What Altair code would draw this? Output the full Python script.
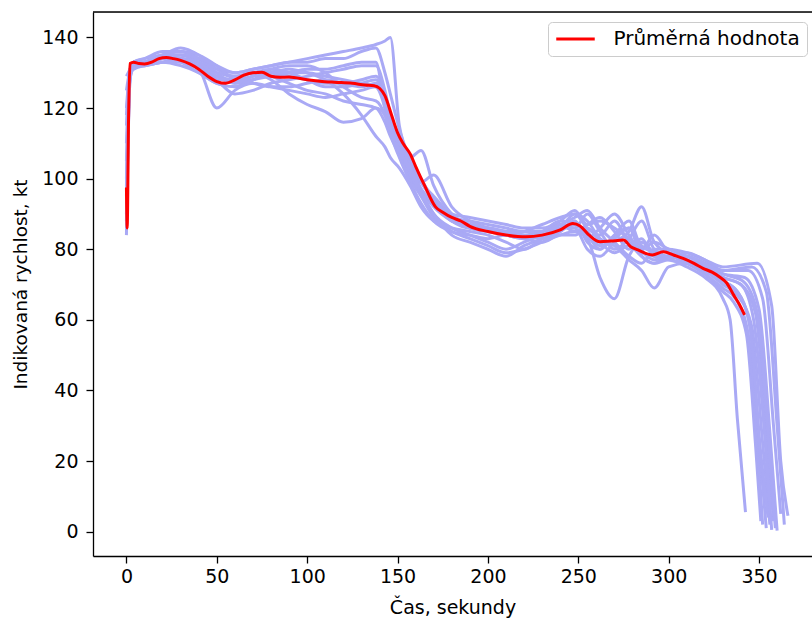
import altair as alt
import pandas as pd

# Common sample times (s) shared by every recorded approach
TIME = [0, 2, 4, 10, 20, 30, 40, 50, 60, 70, 80, 90, 100, 110, 120, 130, 138,
        143, 146, 151, 157, 163, 170, 180, 190, 200, 210, 220, 230, 240, 248,
        255, 262, 270, 278, 285, 292, 300, 310, 320, 330]

# Indicated airspeed (kt) of each approach on TIME
SPEED_01 = [129, 131, 133, 133, 135, 136, 134, 131, 130, 131, 132, 133, 133, 134, 134, 136, 137, 130, 124, 114,
            104, 97, 92, 88, 86, 85, 84, 83, 84, 86, 90, 86, 84, 88, 82, 80, 84, 79, 77, 74, 70]
SPEED_02 = [84, 128, 132, 133, 134, 133, 130, 127, 126, 128, 129, 130, 131, 131, 132, 133, 133, 120, 114, 107,
            101, 96, 90, 86, 84, 82, 80, 82, 84, 85, 88, 82, 80, 84, 86, 78, 76, 78, 76, 73, 68]
SPEED_03 = [110, 130, 132, 133, 134, 135, 133, 128, 124, 125, 127, 128, 129, 130, 131, 132, 132, 125, 118, 110,
            103, 97, 93, 88, 87, 86, 85, 84, 85, 87, 86, 90, 85, 80, 83, 88, 80, 78, 78, 75, 72]
SPEED_04 = [100, 129, 131, 132, 133, 134, 132, 129, 128, 129, 130, 129, 128, 127, 127, 128, 129, 124, 117, 108,
            100, 95, 89, 85, 83, 81, 79, 80, 82, 84, 85, 83, 72, 66, 78, 82, 79, 77, 76, 73, 69]
SPEED_05 = [120, 131, 133, 133, 135, 137, 135, 131, 129, 130, 131, 130, 128, 126, 126, 127, 128, 123, 118, 112,
            106, 100, 94, 89, 88, 87, 86, 85, 85, 87, 89, 91, 86, 82, 78, 76, 80, 80, 79, 77, 74]
SPEED_06 = [95, 129, 132, 132, 134, 134, 133, 130, 129, 130, 129, 127, 125, 124, 122, 121, 120, 116, 112, 107,
            101, 96, 90, 84, 82, 80, 78, 81, 83, 86, 87, 84, 80, 84, 88, 80, 77, 78, 77, 75, 71]
SPEED_07 = [125, 131, 133, 134, 135, 136, 135, 132, 128, 127, 126, 126, 127, 128, 127, 126, 127, 122, 116, 110,
            104, 99, 95, 90, 89, 88, 87, 86, 86, 88, 91, 87, 88, 86, 83, 80, 82, 80, 78, 76, 73]
SPEED_08 = [90, 128, 132, 132, 133, 132, 130, 127, 126, 128, 130, 130, 130, 129, 128, 127, 126, 120, 113, 106,
            99, 93, 88, 85, 84, 83, 84, 83, 82, 84, 84, 86, 82, 79, 81, 78, 76, 77, 75, 72, 66]
SPEED_09 = [105, 130, 132, 132, 133, 133, 131, 120, 125, 127, 126, 125, 124, 123, 124, 125, 126, 121, 115, 108,
            102, 97, 93, 88, 86, 86, 85, 84, 83, 85, 88, 83, 86, 90, 84, 79, 78, 80, 77, 75, 72]
SPEED_10 = [115, 131, 133, 134, 136, 136, 134, 130, 127, 128, 130, 131, 130, 128, 124, 118, 112, 109, 106, 103,
            98, 92, 88, 86, 85, 84, 82, 80, 83, 86, 86, 80, 78, 82, 85, 92, 82, 79, 78, 76, 74]
SPEED_11 = [88, 129, 132, 133, 134, 135, 133, 129, 127, 129, 131, 132, 132, 130, 126, 123, 122, 118, 113, 108,
            103, 99, 101, 92, 88, 86, 84, 85, 87, 89, 90, 88, 83, 81, 77, 74, 69, 75, 76, 74, 71]
SPEED_12 = [118, 130, 133, 133, 134, 134, 132, 128, 128, 130, 128, 124, 121, 119, 116, 117, 120, 118, 114, 110,
            106, 108, 98, 90, 87, 86, 85, 85, 84, 87, 85, 87, 89, 85, 80, 83, 78, 77, 79, 77, 75]
SPEED_13 = [98, 129, 132, 133, 135, 135, 134, 132, 130, 131, 132, 133, 134, 135, 136, 137, 138, 139, 140, 115,
            106, 99, 94, 89, 86, 85, 84, 83, 85, 88, 87, 85, 81, 83, 86, 81, 79, 78, 78, 76, 73]

# Touchdown segment of each approach: times (s) and speeds (kt)
TAIL_T_01, TAIL_V_01 = [338, 346, 352, 356], [67, 58, 25, 2]
TAIL_T_02, TAIL_V_02 = [336, 343, 348, 351], [65, 56, 25, 3]
TAIL_T_03, TAIL_V_03 = [340, 348, 354, 358], [70, 62, 28, 3]
TAIL_T_04, TAIL_V_04 = [337, 344, 349, 352], [66, 56, 26, 2]
TAIL_T_05, TAIL_V_05 = [344, 352, 358, 362], [74, 66, 30, 5]
TAIL_T_06, TAIL_V_06 = [338, 345, 350, 354], [68, 58, 25, 1]
TAIL_T_07, TAIL_V_07 = [342, 350, 356, 360], [72, 63, 28, 0.3]
TAIL_T_08, TAIL_V_08 = [334, 338, 342.5], [60, 32, 5.5]
TAIL_T_09, TAIL_V_09 = [340, 347, 353, 357], [70, 60, 28, 0.5]
TAIL_T_10, TAIL_V_10 = [346, 354, 360, 364], [75, 68, 30, 2]
TAIL_T_11, TAIL_V_11 = [338, 345, 351, 355], [68, 58, 22, 4]
TAIL_T_12, TAIL_V_12 = [349, 357, 362, 366], [76, 64, 20, 4.5]
TAIL_T_13, TAIL_V_13 = [341, 349, 355, 359], [71, 62, 28, 1]

# Mean airspeed across approaches
MEAN_TIME = [0, 0.4, 1.2, 2, 4, 7, 10, 14, 18, 22, 26, 30, 35, 40, 45, 50, 55, 60, 65, 70,
             75, 80, 85, 90, 100, 107, 115, 125, 132, 137, 140, 143, 147, 150, 153, 157, 160, 165, 171, 175,
             180, 185, 190, 200, 210, 221, 230, 240, 247, 251, 256, 262, 268, 275, 279, 283, 291, 297, 303, 308,
             314, 319, 324, 328, 332, 336, 339, 342]
MEAN_SPEED = [97.5, 86, 118, 132.6, 133, 132.6, 132.5, 133, 134, 134.3, 134, 133.5, 132.5, 131, 129, 127.5, 127, 128, 129.3, 130,
              130.1, 129, 128.7, 128.8, 128, 127.6, 127.3, 127, 126.5, 126.3, 125.6, 123.5, 117.5, 113, 110, 107, 103.5, 98, 92, 90.5,
              89, 88, 86.5, 85, 84, 83.5, 84, 85.5, 87.3, 86.6, 84, 82.1, 82.3, 82.6, 80.7, 79.8, 78.4, 79.3, 78.3, 77.4,
              76, 74.6, 73.5, 72.2, 70.5, 67, 64.5, 61.4]

MEAN_LABEL = "Průměrná hodnota"

FLIGHTS = [
    (SPEED_01, TAIL_T_01, TAIL_V_01), (SPEED_02, TAIL_T_02, TAIL_V_02),
    (SPEED_03, TAIL_T_03, TAIL_V_03), (SPEED_04, TAIL_T_04, TAIL_V_04),
    (SPEED_05, TAIL_T_05, TAIL_V_05), (SPEED_06, TAIL_T_06, TAIL_V_06),
    (SPEED_07, TAIL_T_07, TAIL_V_07), (SPEED_08, TAIL_T_08, TAIL_V_08),
    (SPEED_09, TAIL_T_09, TAIL_V_09), (SPEED_10, TAIL_T_10, TAIL_V_10),
    (SPEED_11, TAIL_T_11, TAIL_V_11), (SPEED_12, TAIL_T_12, TAIL_V_12),
    (SPEED_13, TAIL_T_13, TAIL_V_13),
]

rows = []
for i, (speeds, tail_t, tail_v) in enumerate(FLIGHTS, start=1):
    for t, v in zip(TIME + tail_t, speeds + tail_v):
        rows.append({"flight": i, "t": t, "v": v})
flights_df = pd.DataFrame(rows)
mean_df = pd.DataFrame({"t": MEAN_TIME, "v": MEAN_SPEED, "series": MEAN_LABEL})

W, H = 719, 544
FONT = "DejaVu Sans"

x_scale = alt.Scale(domain=[-18.5, 379.3], nice=False, zero=False)
y_scale = alt.Scale(domain=[-6.9, 147.2], nice=False, zero=False)

axis_common = dict(
    grid=False, tickSize=7, tickWidth=1.3, tickColor="black",
    domainColor="black", domainWidth=1.3, labelColor="black",
    labelFont=FONT, titleFont=FONT, titleFontWeight="normal",
    titleColor="black", labelFlush=False, labelOverlap=False, format="d",
)

x_axis = alt.Axis(values=list(range(0, 351, 50)), title="Čas, sekundy",
                  labelFontSize=19, labelPadding=4, titleFontSize=19,
                  titleX=W / 2, titleY=51, titleBaseline="middle",
                  titleAlign="center", **axis_common)
y_axis = alt.Axis(values=list(range(0, 141, 20)), title="Indikovaná rychlost, kt",
                  labelFontSize=19, labelPadding=8, titleFontSize=18.5,
                  titleX=-73, titleY=H / 2, titleBaseline="middle",
                  titleAlign="center", titleAngle=270, **axis_common)

X = alt.X("t:Q", scale=x_scale, axis=x_axis)
Y = alt.Y("v:Q", scale=y_scale, axis=y_axis)

flights = alt.Chart(flights_df).mark_line(
    color="#a9a9f5", strokeWidth=3, interpolate="monotone"
).encode(x=X, y=Y, detail="flight:N")

mean = alt.Chart(mean_df).mark_line(strokeWidth=3, interpolate="monotone").encode(
    x=alt.X("t:Q", scale=x_scale),
    y=alt.Y("v:Q", scale=y_scale),
    color=alt.Color(
        "series:N",
        scale=alt.Scale(domain=[MEAN_LABEL], range=["#ff0000"]),
        legend=alt.Legend(
            title=None, orient="none", legendX=455, legendY=10,
            symbolType="M-3.85,0H3.85", symbolSize=100, symbolStrokeWidth=3,
            symbolOffset=10.5, labelOffset=28, labelFontSize=20, labelLimit=400,
            labelFont=FONT, labelColor="black", padding=7,
            fillColor="white", strokeColor="#cccccc", cornerRadius=4,
        ),
    ),
)

# upper frame line of the plot area
frame_top = alt.Chart(pd.DataFrame({"k": [0]})).mark_rule(
    color="black", strokeWidth=1.3
).encode(x=alt.value(0), x2=alt.value(W), y=alt.value(0))

chart = alt.layer(flights, mean, frame_top).properties(
    width=W, height=H,
    autosize=alt.AutoSizeParams(type="none"),
    padding={"left": 93, "top": 12, "right": 0, "bottom": 66},
).configure_view(stroke=None).configure(background="white")

chart.save("out.html", embed_options={"renderer": "svg", "actions": False})
